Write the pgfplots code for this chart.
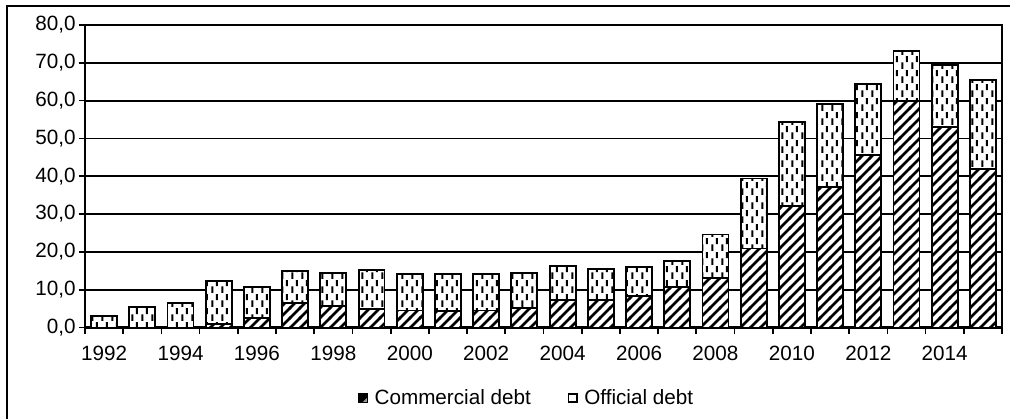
\documentclass[border=0pt]{standalone}
\usepackage{fontspec}
\setmainfont{Liberation Sans}
\usepackage{pgfplots}
\pgfplotsset{compat=1.18}
\usepackage{pgfplotstable}
\usetikzlibrary{patterns}

\pgfdeclarepatternformonly{hatch}{\pgfqpoint{-1pt}{-1pt}}{\pgfqpoint{8.5pt}{8.5pt}}{\pgfqpoint{7.5pt}{7.5pt}}{
  \pgfsetlinewidth{2pt}
  \pgfpathmoveto{\pgfqpoint{-1pt}{-1pt}}
  \pgfpathlineto{\pgfqpoint{8.5pt}{8.5pt}}
  \pgfusepath{stroke}
}
\pgfdeclarepatternformonly{vdashes}{\pgfqpoint{0pt}{0pt}}{\pgfqpoint{7.5pt}{10.5pt}}{\pgfqpoint{7.5pt}{10.5pt}}{
  \pgfsetlinewidth{1.6pt}
  \pgfpathmoveto{\pgfqpoint{1.9pt}{0.2pt}}
  \pgfpathlineto{\pgfqpoint{1.9pt}{5.4pt}}
  \pgfpathmoveto{\pgfqpoint{5.6pt}{5.45pt}}
  \pgfpathlineto{\pgfqpoint{5.6pt}{10.4pt}}
  \pgfusepath{stroke}
}

\pgfplotstableread{
x year comm off
0 1992 0.0 3.1
1 1993 0.0 5.5
2 1994 0.0 6.5
3 1995 1.0 11.3
4 1996 2.5 8.3
5 1997 6.5 8.5
6 1998 5.7 8.7
7 1999 4.9 10.3
8 2000 4.5 9.7
9 2001 4.3 9.8
10 2002 4.5 9.7
11 2003 5.2 9.3
12 2004 7.3 8.9
13 2005 7.2 8.2
14 2006 8.3 7.7
15 2007 10.7 6.8
16 2008 13.1 11.5
17 2009 20.9 18.5
18 2010 32.1 22.2
19 2011 37.1 21.9
20 2012 45.7 18.8
21 2013 59.9 13.3
22 2014 53.1 16.4
23 2015 41.9 23.5
}\debt

\newcommand{\lbl}{\fontsize{15.5}{18}\selectfont}

\begin{document}
\begin{tikzpicture}[font=\lbl]
\useasboundingbox (-63.75pt,-67.875pt) rectangle (693.75pt,245.625pt);
\draw[line width=1.1pt] (-58.5pt,-80pt) -- (-58.5pt,241.125pt) -- (720pt,241.125pt);
\begin{axis}[
  at={(0pt,0pt)}, anchor=south west,
  scale only axis,
  width=687.75pt, height=226.875pt,
  ybar stacked,
  bar width=0.68,
  xmin=-0.5, xmax=23.5,
  ymin=0, ymax=80,
  ytick={0,10,...,80},
  xtick={-0.5,0.5,...,23.5},
  xticklabels={1992,,1994,,1996,,1998,,2000,,2002,,2004,,2006,,2008,,2010,,2012,,2014,,},
  xticklabel style={xshift=14.33pt, yshift=-6pt},
  yticklabel={\pgfmathprintnumber[fixed,fixed zerofill,precision=1,use comma]{\tick}},
  yticklabel style={xshift=1pt},
  tick pos=left,
  tick align=outside,
  major tick length=4.5pt,
  tick style={black, line width=1.3pt},
  ymajorgrids,
  grid style={black, line width=1.4pt},
  axis line style={black, line width=1.6pt},
  /pgf/number format/assume math mode=true,
  tick label style={font=\lbl},
  legend style={draw=none, at={(0.482,-0.233)}, anchor=center,
    font=\lbl, legend columns=2,
    /tikz/every odd column/.append style={column sep=3pt},
    /tikz/every even column/.append style={column sep=25.5pt}},
  legend cell align=left,
]
\addplot[draw=black, line width=1.4pt, fill=white,
  postaction={pattern=hatch}, forget plot] table[x=x, y=comm] {\debt};
\addplot[draw=black, line width=1.4pt, fill=white,
  postaction={pattern=vdashes}, forget plot] table[x=x, y=off] {\debt};
\addlegendimage{legend image code/.code={
    \fill[black] (0pt,-3.2pt) rectangle (6.4pt,3.2pt);
    \fill[white!60!black] (6.4pt,-3.2pt) -- (6.4pt,0pt) -- (3.2pt,-3.2pt) -- cycle;
    \draw[black, line width=0.9pt] (0pt,-3.2pt) rectangle (6.4pt,3.2pt);}}
\addlegendentry{Commercial debt}
\addlegendimage{legend image code/.code={
    \draw[black, line width=1.2pt, fill=white] (0pt,-3.2pt) rectangle (6.4pt,3.2pt);}}
\addlegendentry{Official debt}
\end{axis}
\end{tikzpicture}
\end{document}
